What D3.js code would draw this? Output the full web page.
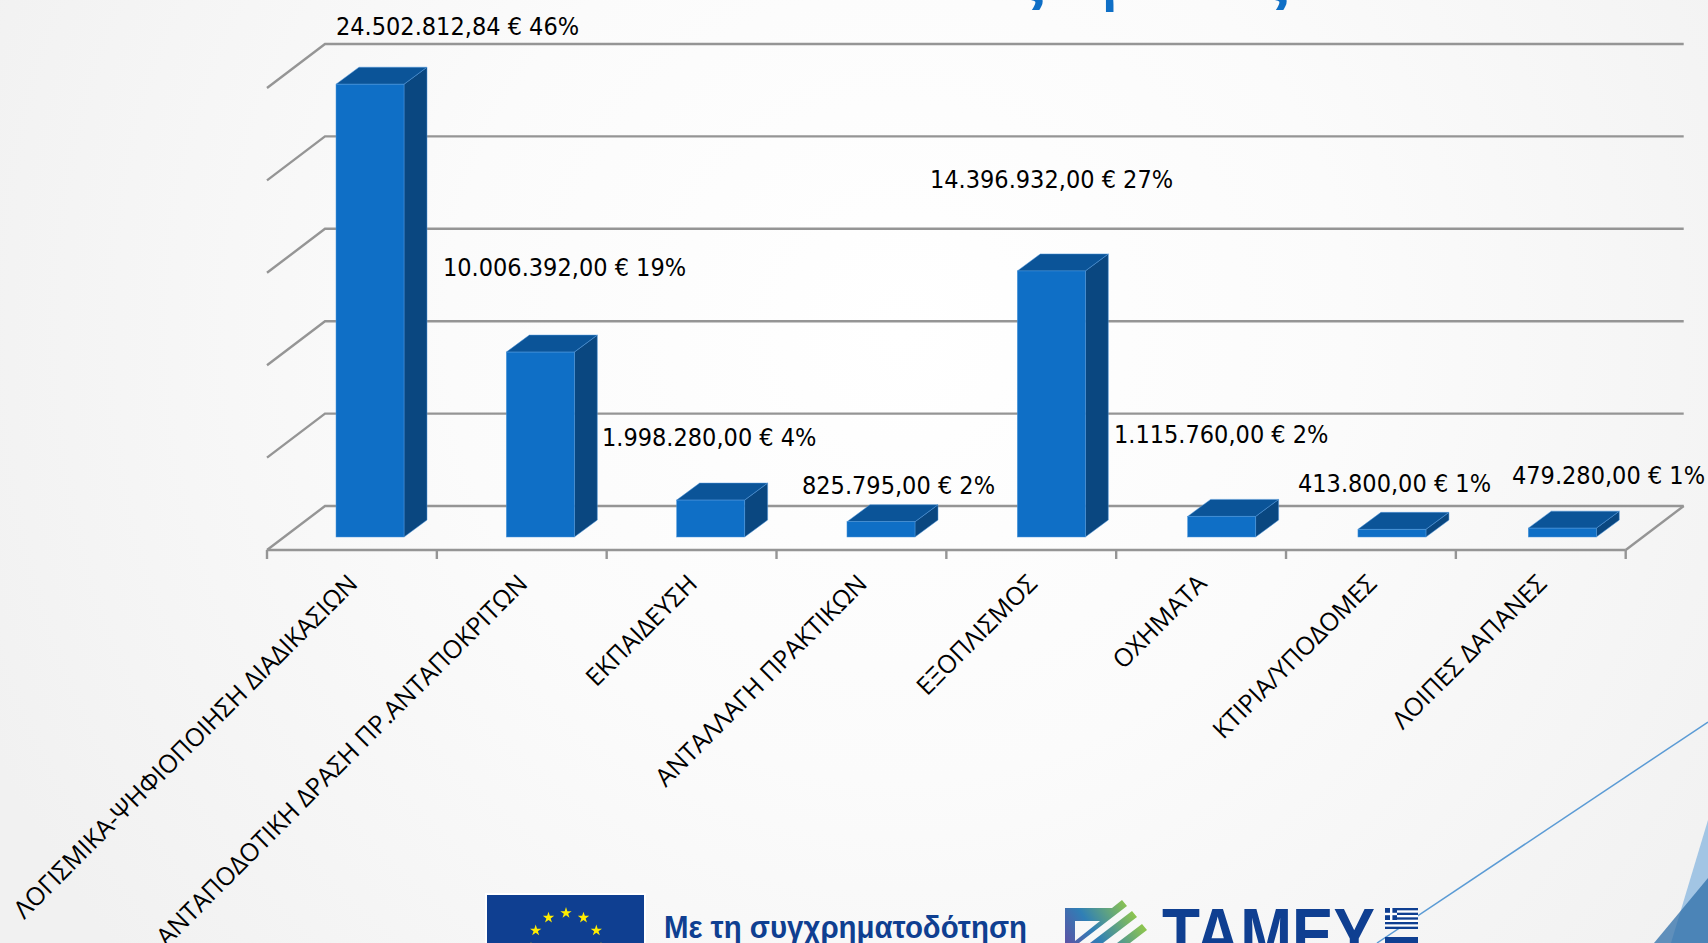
<!DOCTYPE html>
<html>
<head>
<meta charset="utf-8">
<script src="https://cdn.jsdelivr.net/npm/d3@7"></script>
<style>
    html, body { margin: 0; padding: 0; overflow: hidden; background: #f5f5f5; }
    svg { display: block; }
</style>
</head>
<body>
<div id="chart"></div>
<script>
// Chart data
const categories = [
    "ΛΟΓΙΣΜΙΚΑ-ΨΗΦΙΟΠΟΙΗΣΗ ΔΙΑΔΙΚΑΣΙΩΝ",
    "ΑΝΤΑΠΟΔΟΤΙΚΗ ΔΡΑΣΗ ΠΡ.ΑΝΤΑΠΟΚΡΙΤΩΝ",
    "ΕΚΠΑΙΔΕΥΣΗ",
    "ΑΝΤΑΛΛΑΓΗ ΠΡΑΚΤΙΚΩΝ",
    "ΕΞΟΠΛΙΣΜΟΣ",
    "ΟΧΗΜΑΤΑ",
    "ΚΤΙΡΙΑ/ΥΠΟΔΟΜΕΣ",
    "ΛΟΙΠΕΣ ΔΑΠΑΝΕΣ"
];
const amounts = [24502812.84, 10006392, 1998280, 825795, 14396932, 1115760, 413800, 479280];
const percents = [46, 19, 4, 2, 27, 2, 1, 1];
const yDomain = [0, 25000000];
const yTickCount = 5;

// Hand-placed data labels on the slide: [left, baseline]
const labelPlaces = [[336, 35], [443, 276], [602, 446], [802, 494], [930, 188], [1114, 443], [1298, 492], [1512, 484]];

const width = 1708, height = 943;
const depthX = 58, depthY = 44;      // floor depth of the 3D box
const barDepthX = 23, barDepthY = 17;
const barWidth = 68;
const barBaseOffset = 31;            // bar base sits this far below the back wall floor line

const svg = d3.select("#chart").append("svg")
    .attr("width", width)
    .attr("height", height);

// slide background
const defs = svg.append("defs");
const bg = defs.append("radialGradient").attr("id", "bg")
    .attr("gradientUnits", "userSpaceOnUse")
    .attr("cx", 900).attr("cy", 330).attr("r", 1000);
bg.append("stop").attr("offset", "0%").attr("stop-color", "#ffffff");
bg.append("stop").attr("offset", "45%").attr("stop-color", "#fbfbfb");
bg.append("stop").attr("offset", "100%").attr("stop-color", "#f1f1f1");

const markGrad = defs.append("linearGradient").attr("id", "markGrad")
    .attr("gradientUnits", "userSpaceOnUse")
    .attr("x1", 1068).attr("y1", 945).attr("x2", 1128).attr("y2", 905);
markGrad.append("stop").attr("offset", "0%").attr("stop-color", "#5b55a6");
markGrad.append("stop").attr("offset", "40%").attr("stop-color", "#2f7fb6");
markGrad.append("stop").attr("offset", "100%").attr("stop-color", "#8cc450");

svg.append("rect").attr("width", width).attr("height", height).attr("fill", "url(#bg)");

// theme decoration, bottom right
svg.append("line")
    .attr("x1", 1708).attr("y1", 722).attr("x2", 1377).attr("y2", 943)
    .attr("stroke", "#5b9bd5").attr("stroke-width", 1.5);
svg.append("polygon").attr("points", "1708,820 1671,943 1708,943").attr("fill", "#a2c5e4");
svg.append("polygon").attr("points", "1654,943 1708,878 1708,943").attr("fill", "#2e6da8").attr("opacity", 0.75);

// bottom of the slide title, the rest is cut off by the frame
const titleColor = "#0f6fc6";
svg.append("g").selectAll("text")
    .data([["ς", 1018], ["ρ", 1103], ["ς", 1262]])
    .join("text")
    .attr("x", d => d[1])
    .attr("y", -0.5)
    .attr("font-family", "'Open Sans'")
    .attr("font-weight", "bold")
    .attr("font-size", 50)
    .attr("fill", titleColor)
    .text(d => d[0]);

// scales
const x = d3.scaleBand().domain(categories).range([267, 1625.7]);
// the bars stand a bit deeper in the box, so they step slightly wider than the ticks
const xBar = d3.scaleBand().domain(categories).range([336, 1698.6]);
const y = d3.scaleLinear().domain(yDomain).range([506, 44]);
const gridColor = "#959595";

// wall gridlines with their side wall part
svg.append("g").selectAll("path")
    .data(y.ticks(yTickCount))
    .join("path")
    .attr("d", d => {
        const p = d3.path();
        p.moveTo(x.range()[0], y(d) + depthY);
        p.lineTo(x.range()[0] + depthX, y(d));
        p.lineTo(x.range()[1] + depthX, y(d));
        return p.toString();
    })
    .attr("fill", "none")
    .attr("stroke", gridColor)
    .attr("stroke-width", 2.4);

// right edge of the floor
svg.append("line")
    .attr("x1", x.range()[1]).attr("y1", y(0) + depthY)
    .attr("x2", x.range()[1] + depthX).attr("y2", y(0))
    .attr("stroke", gridColor).attr("stroke-width", 2.4);

// Bars: front, top and side face
const bars = svg.append("g").selectAll("g")
    .data(categories.map((c, i) => ({ category: c, amount: amounts[i], percent: percents[i], place: labelPlaces[i] })))
    .join("g");

const left = d => xBar(d.category);
const top_ = d => y(d.amount) + barBaseOffset;
const base = y(0) + barBaseOffset;
const edge = "#4f97dc";

bars.append("path")
    .attr("d", d => `M${left(d) + barWidth},${top_(d)}l${barDepthX},${-barDepthY}V${base - barDepthY}l${-barDepthX},${barDepthY}Z`)
    .attr("fill", "#0a4780")
    .attr("stroke", edge).attr("stroke-width", 0.5);
bars.append("path")
    .attr("d", d => `M${left(d)},${top_(d)}l${barDepthX},${-barDepthY}h${barWidth}l${-barDepthX},${barDepthY}Z`)
    .attr("fill", "#0b5498")
    .attr("stroke", edge).attr("stroke-width", 0.5);
bars.append("rect")
    .attr("x", left)
    .attr("y", top_)
    .attr("width", barWidth)
    .attr("height", d => base - top_(d))
    .attr("fill", titleColor)
    .attr("stroke", edge).attr("stroke-width", 0.5);

// x axis
const axis = svg.append("g")
    .attr("transform", "translate(0," + (y(0) + depthY) + ")")
    .call(d3.axisBottom(x).tickSize(0));
axis.select(".domain").remove();
axis.selectAll("text")
    .attr("x", 0).attr("y", 0).attr("dy", "0.35em")
    .attr("transform", "translate(1,29)rotate(-45)")
    .style("text-anchor", "end")
    .attr("font-family", "'Open Sans'")
    .attr("font-size", 25)
    .attr("fill", "#000");

const edgeTicks = categories.map(c => x(c)).concat(x.range()[1]);
svg.append("line")
    .attr("x1", x.range()[0]).attr("x2", x.range()[1])
    .attr("y1", y(0) + depthY).attr("y2", y(0) + depthY)
    .attr("stroke", gridColor).attr("stroke-width", 2.4);
svg.append("g").selectAll("line")
    .data(edgeTicks)
    .join("line")
    .attr("x1", d => d).attr("x2", d => d)
    .attr("y1", y(0) + depthY).attr("y2", y(0) + depthY + 9)
    .attr("stroke", gridColor).attr("stroke-width", 2.4);

// Data labels
const locale = d3.formatLocale({ decimal: ",", thousands: ".", grouping: [3], currency: ["", " €"] });
const money = locale.format(",.2f");
bars.append("text")
    .attr("x", d => d.place[0])
    .attr("y", d => d.place[1])
    .attr("font-family", "'DejaVu Sans Condensed', 'DejaVu Sans'")
    .attr("font-stretch", "condensed")
    .attr("font-size", 25)
    .attr("fill", "#000")
    .text(d => money(d.amount) + " € " + d.percent + "%");

// Logos along the bottom edge
const logos = svg.append("g");
const navy = "#0f3f91";

logos.append("rect").attr("x", 485).attr("y", 893).attr("width", 161).attr("height", 60).attr("fill", "#fff");
logos.append("rect").attr("x", 487).attr("y", 895).attr("width", 157).attr("height", 60).attr("fill", navy);
logos.append("g").selectAll("path")
    .data(d3.range(12))
    .join("path")
    .attr("d", d3.symbol().type(d3.symbolStar).size(40))
    .attr("transform", d => "translate(" + (566 + 35 * Math.sin(d * Math.PI / 6)) + "," + (948 - 35 * Math.cos(d * Math.PI / 6)) + ")")
    .attr("fill", "#ffed00");

logos.append("text")
    .attr("x", 664).attr("y", 938)
    .attr("font-family", "'Liberation Sans'")
    .attr("font-weight", "bold")
    .attr("font-size", 32)
    .attr("textLength", 363)
    .attr("lengthAdjust", "spacingAndGlyphs")
    .attr("fill", navy)
    .text("Με τη συγχρηματοδότηση");

logos.append("path")
    .attr("fill-rule", "evenodd")
    .attr("fill", "url(#markGrad)")
    .attr("d", "M1065,908H1112L1122,900L1127,906L1079,943H1065ZM1075,921V941L1100,921Z"
        + "M1132,911L1137,917L1103,943H1090Z"
        + "M1142,924L1147,930L1130,943H1117Z");

logos.append("text")
    .attr("x", 1162).attr("y", 959)
    .attr("font-family", "'Liberation Sans'")
    .attr("font-weight", "bold")
    .attr("font-size", 72)
    .attr("textLength", 213)
    .attr("lengthAdjust", "spacingAndGlyphs")
    .attr("fill", navy)
    .text("ΤΑΜΕΥ");

// small Greek flag next to the wordmark
const flag = logos.append("g");
flag.append("rect").attr("x", 1385).attr("y", 908).attr("width", 33).attr("height", 21).attr("fill", "#fff");
flag.selectAll(".stripe")
    .data(d3.range(0, 9, 2))
    .join("rect")
    .attr("class", "stripe")
    .attr("x", 1385).attr("y", d => 908 + d * 21 / 9)
    .attr("width", 33).attr("height", 21 / 9)
    .attr("fill", navy);
flag.append("rect").attr("x", 1385).attr("y", 908).attr("width", 12).attr("height", 12).attr("fill", navy);
flag.append("rect").attr("x", 1390).attr("y", 908).attr("width", 2.4).attr("height", 12).attr("fill", "#fff");
flag.append("rect").attr("x", 1385).attr("y", 912.8).attr("width", 12).attr("height", 2.4).attr("fill", "#fff");
logos.append("rect").attr("x", 1385).attr("y", 937).attr("width", 33).attr("height", 8).attr("fill", navy);
</script>
</body>
</html>
